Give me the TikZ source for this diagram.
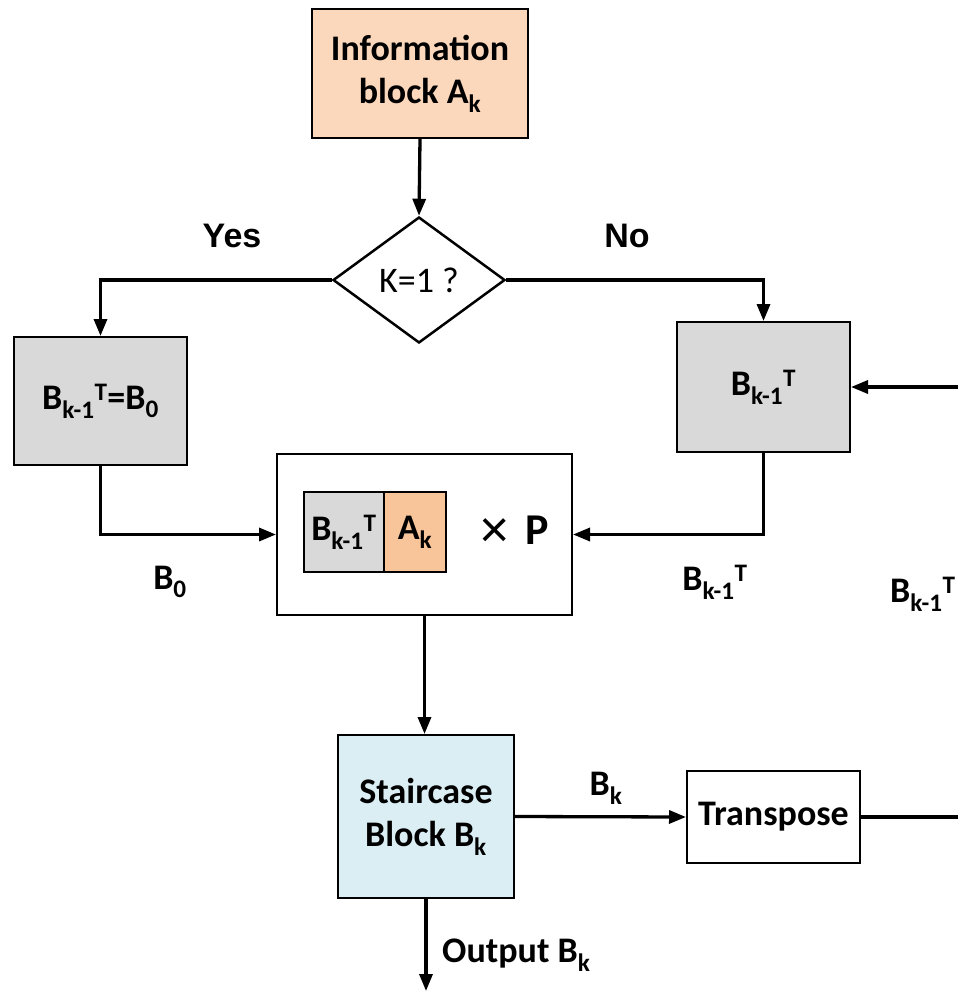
\documentclass[tikz,border=0pt]{standalone}
\usepackage{fontspec}
\setmainfont{Carlito}
\newfontfamily\arialfont{Liberation Sans}
\usetikzlibrary{arrows.meta,shapes.geometric}

\definecolor{infofill}{HTML}{FBD7BB}
\definecolor{akfill}{HTML}{F8C49A}
\definecolor{grayfill}{HTML}{D9D9D9}
\definecolor{stairfill}{HTML}{DAEEF3}

\newcommand{\lo}[1]{\textsubscript{#1}}
\newcommand{\hi}[1]{\textsuperscript{#1}}

\tikzset{
  blk/.style={draw, line width=2pt, inner sep=0pt, align=center,
              font=\fontsize{36}{43}\selectfont\bfseries},
  arr/.style={line width=3.3pt, -{Triangle[length=17pt,width=13pt]}},
  wire/.style={line width=3.3pt},
  lbl/.style={inner sep=0pt, font=\fontsize{36}{43}\selectfont\bfseries},
  yn/.style={inner sep=0pt, font=\arialfont\fontsize{34}{40}\selectfont\bfseries}
}

\begin{document}
\begin{tikzpicture}[x=1pt,y=-1pt]
  \useasboundingbox (0,0) rectangle (958,992);

  % blocks
  \node[blk, fill=infofill, minimum width=216pt, minimum height=129pt]
    (info) at (420,73.5) {Information\\block A\lo{k}};
  \node[draw, line width=2.5pt, shape=diamond, aspect=1.37, inner sep=0pt,
        minimum width=172pt, minimum height=126pt,
        font=\fontsize{36}{40}\selectfont]
    (dec) at (419,280) {K=1 ?};
  \node[blk, fill=grayfill, minimum width=173pt, minimum height=128pt]
    (left) at (100.5,401) {B\lo{k-1}\hi{T}=B\lo{0}};
  \node[blk, fill=grayfill, minimum width=173pt, minimum height=130pt]
    (right) at (763.5,387) {B\lo{k-1}\hi{T}};
  \node[blk, fill=white, minimum width=295pt, minimum height=161pt]
    (mid) at (424.5,534.5) {};
  \node[blk, fill=grayfill, minimum width=80pt, minimum height=80pt]
    (bin) at (344,532) {B\lo{k-1}\hi{T}};
  \node[blk, fill=akfill, minimum width=62pt, minimum height=80pt]
    (ain) at (415,532) {A\lo{k}};
  \node[inner sep=0pt, font=\arialfont\fontsize{52}{52}\selectfont] (times) at (495,533) {×};
  \node[lbl, font=\fontsize{44}{50}\selectfont\bfseries] (pmat) at (537,530) {P};
  \node[blk, fill=stairfill, minimum width=176pt, minimum height=163pt]
    (stair) at (426,816.5) {Staircase\\Block B\lo{k}};
  \node[blk, fill=white, minimum width=173pt, minimum height=92pt]
    (tr) at (773.5,817) {Transpose};

  % labels
  \node[yn] (yes) at (232,236) {Yes};
  \node[yn] (no) at (627,236) {No};
  \node[lbl] (lb0) at (170,582) {B\lo{0}};
  \node[lbl] (lbk1) at (715,582) {B\lo{k-1}\hi{T}};
  \node[lbl, anchor=west] (lbk2) at (890,594) {B\lo{k-1}\hi{T}};
  \node[lbl] (lbk) at (606,788) {B\lo{k}};
  \node[lbl, anchor=west] (lout) at (442,955) {Output B\lo{k}};

  % free ends at the edge
  \coordinate (rin) at (958,387);
  \coordinate (rout) at (958,817);
  \coordinate (bot) at (426,991);

  % connectors
  \draw[arr] (info.south) -- (dec.north);
  \draw[arr] (dec.west) -| (left.north);
  \draw[arr] (dec.east) -| (right.north);
  \draw[arr] (left.south) |- (mid.west);
  \draw[arr] (right.south) |- (mid.east);
  \draw[arr] (mid.south) -- (mid.south |- stair.north);
  \draw[arr] (stair.east) -- (tr.west);
  \draw[wire] (tr.east) -- (rout);
  \draw[arr] (rin) -- (right.east);
  \draw[arr] (stair.south) -- (bot);
\end{tikzpicture}
\end{document}
